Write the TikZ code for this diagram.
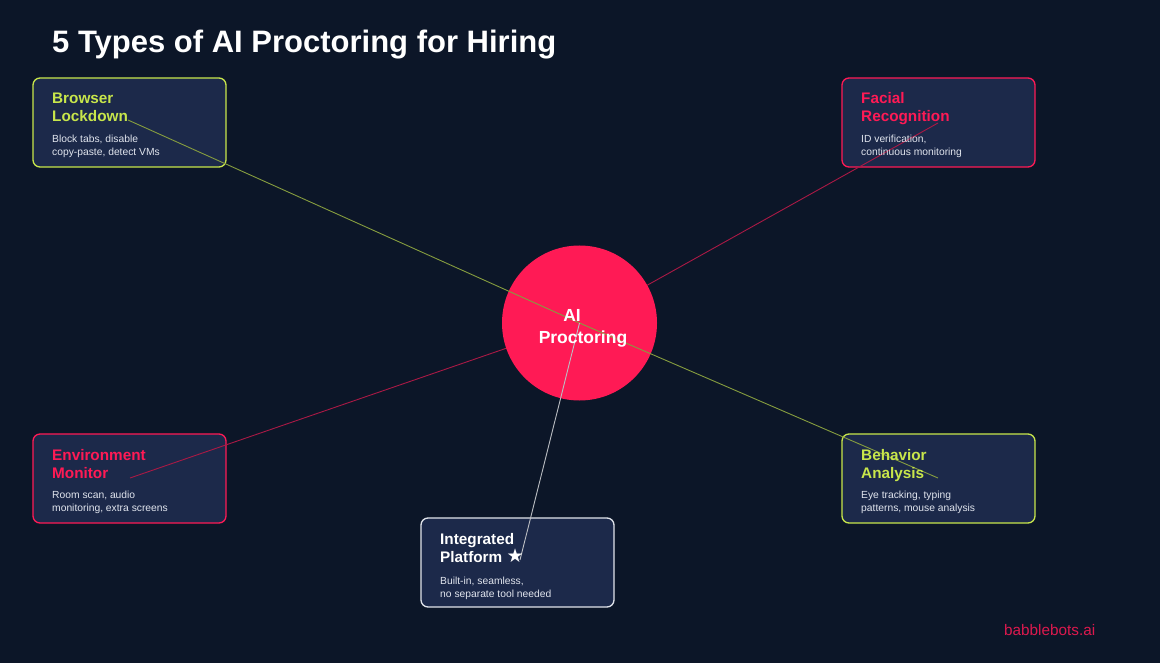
\documentclass[tikz,border=0pt]{standalone}
\usepackage{fontspec}
\setmainfont{Liberation Sans}
\newfontfamily\symfont{DejaVu Sans}
\definecolor{bg}{RGB}{12,22,40}
\definecolor{boxfill}{RGB}{28,41,74}
\definecolor{lime}{RGB}{200,230,75}
\definecolor{hot}{RGB}{255,26,85}
\definecolor{desc}{RGB}{225,229,238}
\definecolor{wborder}{RGB}{225,228,235}
\begin{document}
\begin{tikzpicture}[x=1pt,y=-1pt,
  card/.style={draw=#1, line width=1.3pt, fill=boxfill, rounded corners=7pt},
  ttl/.style={anchor=base west, inner sep=0pt, font=\fontsize{15.3}{18}\selectfont\bfseries, text=#1},
  dsc/.style={anchor=base west, inner sep=0pt, font=\fontsize{10.3}{12}\selectfont, text=desc},
  hubtxt/.style={anchor=base, inner sep=0pt, text=white, font=\fontsize{17.5}{20}\selectfont\bfseries},
  link/.style={line width=0.9pt, draw=#1}]
\fill[bg] (0,0) rectangle (1160,663);
\useasboundingbox (0,0) rectangle (1160,663);
\node[anchor=base west, inner sep=0pt, text=white, font=\fontsize{31}{34}\selectfont\bfseries] (title) at (52,53) {5 Types of AI Proctoring for Hiring};

% cards
\draw[card=lime] (33,78) rectangle (226,167);
\draw[card=hot] (842,78) rectangle (1035,167);
\draw[card=hot] (33,434) rectangle (226,523);
\draw[card=lime] (842,434) rectangle (1035,523);
\draw[card=wborder] (421,518) rectangle (614,607);

% connector ends
\coordinate (c0) at (579.5,323);
\coordinate (eB) at (128,120);
\coordinate (eF) at (938,123);
\coordinate (eE) at (130,478);
\coordinate (eA) at (938,478);
\coordinate (eI) at (520,560);

\draw[link=hot!65!bg] (c0) -- (eF);
\draw[link=hot!65!bg] (c0) -- (eE);

% hub
\node[circle, fill=hot, minimum size=155pt, inner sep=0pt] (hub) at (c0) {};

\draw[link=lime!65!bg] (hub.center) -- (eB);
\draw[link=lime!65!bg] (hub.center) -- (eA);
\draw[link=white!72!bg] (hub.center) -- (eI);

% hub text
\node[hubtxt] (hubA) at (572,321) {AI};
\node[hubtxt] (hubB) at (583,343) {Proctoring};

% Browser
\node[ttl=lime] (b1) at (52,104) {Browser};
\node[ttl=lime] (b2) at (52,122) {Lockdown};
\node[dsc] (b3) at (52,143) {Block tabs, disable};
\node[dsc] (b4) at (52,156) {copy-paste, detect VMs};
% Facial
\node[ttl=hot] (f1) at (861,104) {Facial};
\node[ttl=hot] (f2) at (861,122) {Recognition};
\node[dsc] (f3) at (861,143) {ID verification,};
\node[dsc] (f4) at (861,156) {continuous monitoring};
% Environment
\node[ttl=hot] (e1) at (52,460) {Environment};
\node[ttl=hot] (e2) at (52,478) {Monitor};
\node[dsc] (e3) at (52,498) {Room scan, audio};
\node[dsc] (e4) at (52,511) {monitoring, extra screens};
% Behavior
\node[ttl=lime] (a1) at (861,460) {Behavior};
\node[ttl=lime] (a2) at (861,478) {Analysis};
\node[dsc] (a3) at (861,498) {Eye tracking, typing};
\node[dsc] (a4) at (861,511) {patterns, mouse analysis};
% Integrated
\node[ttl=white] (i1) at (440,544) {Integrated};
\node[ttl=white] (i2) at (440,562) {Platform {\symfont\fontsize{19}{20}\selectfont ★}};
\node[dsc] (i3) at (440,584) {Built-in, seamless,};
\node[dsc] (i4) at (440,597) {no separate tool needed};

\node[anchor=base west, inner sep=0pt, text=hot!85!bg, font=\fontsize{15.3}{17}\selectfont] (brand) at (1004,635) {babblebots.ai};
\end{tikzpicture}
\end{document}
